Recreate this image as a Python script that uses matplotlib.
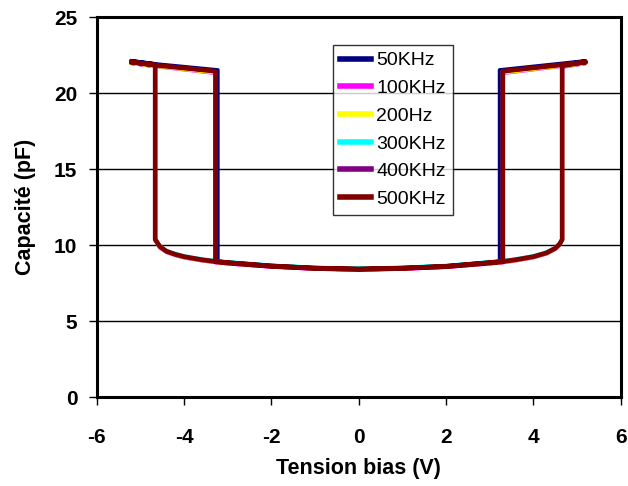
import numpy as np
import matplotlib
matplotlib.use('Agg')
import matplotlib.pyplot as plt

plt.rcParams['font.family'] = ['Liberation Sans', 'DejaVu Sans']
plt.rcParams['axes.unicode_minus'] = False

# hysteresis loop, sweep -5.2 -> 5.2 -> -5.2
v_loop = [-5.2, -4.66, -3.28, -3.28, -3.0, -2.0, -1.0, 0.0, 1.0, 2.0, 3.0, 3.3, 3.6, 4.0, 4.3, 4.5, 4.6, 4.66,
          4.66, 5.2, 3.3, 3.3, 3.0, 2.0, 1.0, 0.0, -1.0, -2.0, -3.0, -3.28, -3.6, -4.0, -4.2, -4.4, -4.55, -4.66,
          -4.66, -5.2]
v_50k = [-5.2, -4.66, -3.22, -3.22, -3.0, -2.0, -1.0, 0.0, 1.0, 2.0, 3.0, 3.22, 3.6, 4.0, 4.3, 4.5, 4.6, 4.66,
         4.66, 5.2, 3.22, 3.22, 3.0, 2.0, 1.0, 0.0, -1.0, -2.0, -3.0, -3.22, -3.6, -4.0, -4.2, -4.4, -4.55, -4.66,
         -4.66, -5.2]

c_50k = [22.15, 21.95, 21.55, 8.95, 8.87, 8.66, 8.52, 8.46, 8.52, 8.64, 8.87, 8.95, 9.07, 9.27, 9.52, 9.82, 10.1, 10.4,
         21.9, 22.15, 21.55, 8.95, 8.87, 8.64, 8.52, 8.46, 8.52, 8.66, 8.87, 8.95, 9.07, 9.27, 9.42, 9.62, 9.92, 10.4,
         21.95, 22.15]
c_100k = [21.95, 21.75, 21.3, 8.85, 8.77, 8.56, 8.42, 8.36, 8.42, 8.54, 8.77, 8.85, 8.97, 9.17, 9.42, 9.72, 10.0, 10.3,
          21.7, 21.95, 21.3, 8.85, 8.77, 8.54, 8.42, 8.36, 8.42, 8.56, 8.77, 8.85, 8.97, 9.17, 9.32, 9.52, 9.82, 10.3,
          21.75, 21.95]
c_200 = [21.97, 21.77, 21.33, 8.87, 8.79, 8.58, 8.44, 8.38, 8.44, 8.56, 8.79, 8.87, 8.99, 9.19, 9.44, 9.74, 10.02, 10.32,
         21.72, 21.97, 21.33, 8.87, 8.79, 8.56, 8.44, 8.38, 8.44, 8.58, 8.79, 8.87, 8.99, 9.19, 9.34, 9.54, 9.84, 10.32,
         21.77, 21.97]
c_300k = [22.05, 21.85, 21.45, 9.0, 8.92, 8.7, 8.56, 8.5, 8.56, 8.68, 8.92, 9.0, 9.12, 9.32, 9.57, 9.87, 10.15, 10.45,
          21.8, 22.05, 21.45, 9.0, 8.92, 8.68, 8.56, 8.5, 8.56, 8.7, 8.92, 9.0, 9.12, 9.32, 9.47, 9.67, 9.97, 10.45,
          21.85, 22.05]
c_400k = [22.05, 21.85, 21.45, 8.93, 8.85, 8.64, 8.5, 8.44, 8.5, 8.62, 8.85, 8.93, 9.05, 9.25, 9.5, 9.8, 10.08, 10.38,
          21.8, 22.05, 21.45, 8.93, 8.85, 8.62, 8.5, 8.44, 8.5, 8.64, 8.85, 8.93, 9.05, 9.25, 9.4, 9.6, 9.9, 10.38,
          21.85, 22.05]
c_500k = [22.05, 21.85, 21.45, 8.93, 8.85, 8.63, 8.49, 8.43, 8.49, 8.61, 8.85, 8.93, 9.05, 9.25, 9.5, 9.8, 10.08, 10.38,
          21.8, 22.05, 21.45, 8.93, 8.85, 8.61, 8.49, 8.43, 8.49, 8.63, 8.85, 8.93, 9.05, 9.25, 9.4, 9.6, 9.9, 10.38,
          21.85, 22.05]

labels = ['50KHz', '100KHz', '200Hz', '300KHz', '400KHz', '500KHz']
colors = ['#000080', '#ff00ff', '#ffff00', '#00ffff', '#800080', '#800000']
v_sets = [v_50k, v_loop, v_loop, v_loop, v_loop, v_loop]
c_sets = [c_50k, c_100k, c_200, c_300k, c_400k, c_500k]
widths = [2.2, 2.2, 2.2, 2.2, 2.6, 3.4]

fig = plt.figure(figsize=(6.28, 4.86), dpi=100)
ax = fig.add_axes([0.154, 0.1825, 0.8344, 0.782])

for y in [5, 10, 15, 20]:
    ax.axhline(y, color='black', lw=1.0, zorder=0)

for v, c, lab, col, w in zip(v_sets, c_sets, labels, colors, widths):
    ax.plot(v, c, '-', color=col, lw=w, label=lab, solid_joinstyle='round')

ax.set_xlim(-6, 6)
ax.set_ylim(0, 25)
ax.set_xticks(np.arange(-6, 7, 2))
ax.set_yticks(np.arange(0, 26, 5))
for s in ax.spines.values():
    s.set_linewidth(2.2)
ax.tick_params(axis='both', which='major', labelsize=15, length=6, width=1, direction='out')
ax.tick_params(axis='x', pad=16)
ax.tick_params(axis='y', pad=8)
for t in ax.get_xticklabels() + ax.get_yticklabels():
    t.set_fontweight('bold')

ax.set_xlabel('Tension bias (V)', fontsize=15.5, fontweight='bold', labelpad=8)
ax.set_ylabel('Capacité (pF)', fontsize=15.5, fontweight='bold', labelpad=13)

leg = ax.legend(loc='upper left', bbox_to_anchor=(0.4515, 0.927), fontsize=14, frameon=True,
                fancybox=False, edgecolor='black', handlelength=1.6, handletextpad=0.26,
                labelspacing=0.52, borderpad=0.35, borderaxespad=0)
leg.get_frame().set_linewidth(1)
for h in leg.get_lines():
    h.set_linewidth(4)

fig.savefig('out.png', dpi=100)
